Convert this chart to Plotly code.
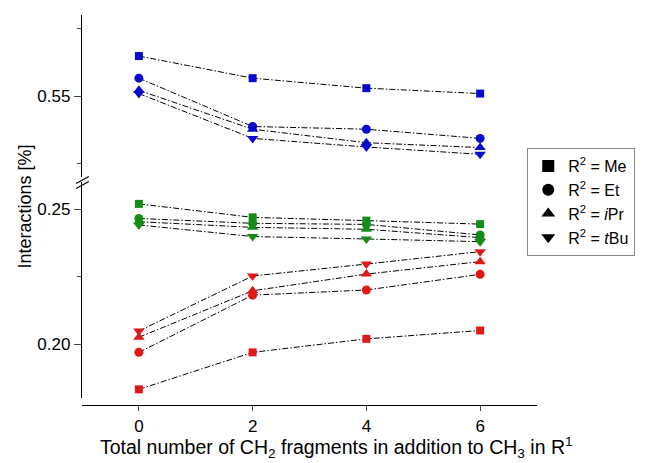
import plotly.graph_objects as go

x_vals = [0, 2, 4, 6]
substituents = ["Me", "Et", "iPr", "tBu"]
legend_labels = ["R<sup>2</sup> = Me", "R<sup>2</sup> = Et", "R<sup>2</sup> = <i>i</i>Pr", "R<sup>2</sup> = <i>t</i>Bu"]
symbols = ["square", "circle", "triangle-up", "triangle-down"]
marker_sizes = [8, 9, 10, 10]

blue_vals = {
    "Me": [0.5648, 0.5566, 0.5529, 0.5509],
    "Et": [0.5566, 0.5387, 0.5377, 0.5343],
    "iPr": [0.5521, 0.5377, 0.5327, 0.5309],
    "tBu": [0.5509, 0.5343, 0.5311, 0.5284],
}
green_vals = {
    "Me": [0.2519, 0.2469, 0.2457, 0.2444],
    "Et": [0.2465, 0.2447, 0.2443, 0.2404],
    "iPr": [0.2453, 0.2432, 0.2425, 0.2394],
    "tBu": [0.2441, 0.2398, 0.2389, 0.2379],
}
red_vals = {
    "Me": [0.1832, 0.1969, 0.2019, 0.2050],
    "Et": [0.1969, 0.2181, 0.2200, 0.2258],
    "iPr": [0.2025, 0.2197, 0.2259, 0.2305],
    "tBu": [0.2048, 0.2252, 0.2296, 0.2342],
}

groups = [
    (blue_vals, "#0A0ACF", "y2"),
    (green_vals, "#158C15", "y"),
    (red_vals, "#E01818", "y"),
]

FONT = "Liberation Sans, Arial, sans-serif"
fig = go.Figure()

for vals, color, yax in groups:
    for sub, sym, ms in zip(substituents, symbols, marker_sizes):
        fig.add_trace(go.Scatter(
            x=x_vals, y=vals[sub], mode="lines+markers", yaxis=yax,
            line=dict(color="black", width=1, dash="6px,2px,1.5px,2px"),
            marker=dict(symbol=sym, size=ms, color=color),
            showlegend=False, hoverinfo="skip",
        ))

for lab, sym, ms in zip(legend_labels, symbols, marker_sizes):
    fig.add_trace(go.Scatter(
        x=[None], y=[None], mode="markers", name=lab,
        marker=dict(symbol=sym, size=ms - 1, color="black"),
    ))

# plot area: x 82..549, y 15..405 (px)
H = 390.0
def fy(py):
    return (405 - py) / H

def px_x(px):
    return (px - 82) / 467.0

fig.update_layout(
    width=647, height=463,
    margin=dict(l=82, r=98, t=15, b=58),
    paper_bgcolor="white", plot_bgcolor="white",
    font=dict(family=FONT, size=16, color="black"),
    showlegend=True,
    legend=dict(
        x=px_x(539), y=fy(148), xanchor="left", yanchor="top",
        bordercolor="#888888", borderwidth=1, bgcolor="white",
        font=dict(size=16, family=FONT), tracegroupgap=0, itemsizing="constant",
    ),
    xaxis=dict(
        range=[-1, 7], tickvals=x_vals, ticks="outside", ticklen=5,
        showline=True, linecolor="black", linewidth=1.3,
        anchor="free", position=0, showgrid=False, zeroline=False,
        tickfont=dict(size=17),
    ),
    yaxis=dict(
        domain=[fy(398), fy(182)], range=[0.18, 0.26],
        tickvals=[0.20, 0.25], ticktext=["0.20", "0.25"],
        ticks="outside", ticklen=7, showline=True, linecolor="black", linewidth=1.3,
        minor=dict(tickvals=[0.225], ticklen=4, ticks="outside", showgrid=False),
        showgrid=False, zeroline=False, anchor="x", tickfont=dict(size=17),
    ),
    yaxis2=dict(
        domain=[fy(177), 1.0], range=[0.52, 0.58],
        tickvals=[0.55], ticktext=["0.55"],
        ticks="outside", ticklen=7, showline=True, linecolor="black", linewidth=1.3,
        minor=dict(tickvals=[0.525, 0.575], ticklen=4, ticks="outside", showgrid=False),
        showgrid=False, zeroline=False, anchor="x", tickfont=dict(size=17),
    ),
)

# axis break marks
for y0, y1 in [(183.5, 176.5), (188.5, 181.5)]:
    fig.add_shape(type="line", xref="paper", yref="paper",
                  x0=px_x(76), y0=fy(y0), x1=px_x(89), y1=fy(y1),
                  line=dict(color="black", width=1.2))

fig.add_annotation(
    text="Total number of CH<sub>2</sub> fragments in addition to CH<sub>3</sub> in R<sup>1</sup>",
    xref="paper", yref="paper", x=px_x(343), y=fy(447), showarrow=False,
    xanchor="center", yanchor="middle", font=dict(size=19.5, family=FONT),
)
fig.add_annotation(
    text="Interactions [%]", xref="paper", yref="paper",
    x=px_x(23), y=fy(207), showarrow=False, textangle=-90,
    xanchor="center", yanchor="middle", font=dict(size=18, family=FONT),
)

fig.write_html("out.html")
